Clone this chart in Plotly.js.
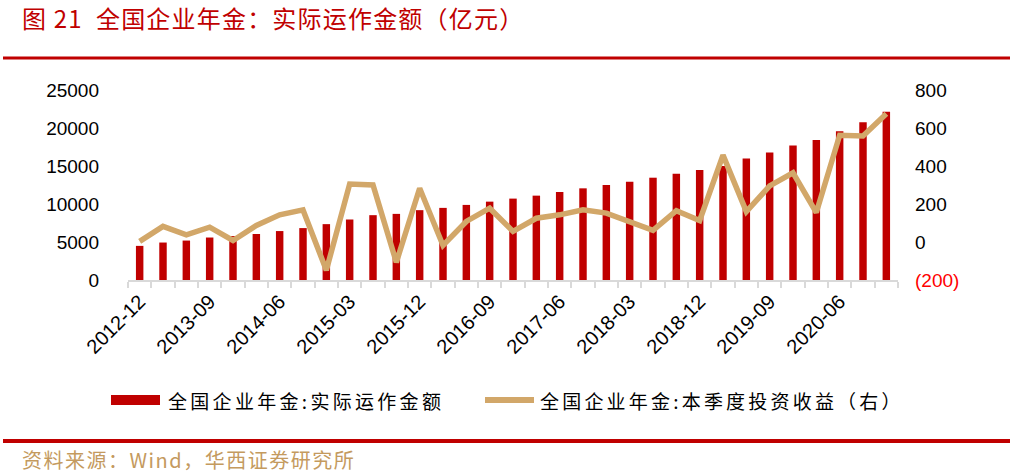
<!DOCTYPE html>
<html>
<head>
<meta charset="utf-8">
<script src="https://cdn.plot.ly/plotly-3.0.1.min.js"></script>
<style>
  html, body { margin: 0; padding: 0; background: #fff; }
  #myDiv { width: 1015px; height: 475px; }
</style>
</head>
<body>
<div id="myDiv"></div>
<script>
// quarters, 2012-12 .. 2020-12
var quarters = ['2012-12', '2013-03', '2013-06', '2013-09', '2013-12', '2014-03', '2014-06', '2014-09',
  '2014-12', '2015-03', '2015-06', '2015-09', '2015-12', '2016-03', '2016-06', '2016-09',
  '2016-12', '2017-03', '2017-06', '2017-09', '2017-12', '2018-03', '2018-06', '2018-09',
  '2018-12', '2019-03', '2019-06', '2019-09', '2019-12', '2020-03', '2020-06', '2020-09', '2020-12'];

// 实际运作金额 (亿元), left axis
var assets = [4490, 4930, 5190, 5590, 5780, 6050, 6440, 6830,
  7350, 7960, 8530, 8700, 9190, 9490, 9880, 10310,
  10710, 11100, 11580, 12060, 12500, 12930, 13460, 13980,
  14460, 15000, 16000, 16780, 17700, 18430, 19570, 20750, 22150];

// 本季度投资收益 (亿元), right axis
var income = [3, 82, 38, 78, 8, 87, 143, 169,
  -149, 305, 300, -107, 283, -18, 108, 178,
  56, 125, 143, 169, 152, 108, 61, 165,
  113, 457, 160, 295, 364, 155, 562, 558, 675];

var leftTicks = [0, 5000, 10000, 15000, 20000, 25000];
var rightTicks = [-200, 0, 200, 400, 600, 800];
var rightLabels = ['<span style="color:#FF0000">(200)</span>', '0', '200', '400', '600', '800'];

// label every third quarter, tick every quarter
var xLabels = quarters.map(function (q, i) { return i % 3 === 0 ? q : ''; });

var barColor = '#C00000';
var lineColor = '#D2A769';

var data = [{
  x: quarters,
  y: assets,
  type: 'bar',
  name: '全国企业年金:实际运作金额',
  marker: {color: barColor},
  yaxis: 'y',
  hoverinfo: 'x+y'
}, {
  x: quarters,
  y: income,
  type: 'scatter',
  mode: 'lines',
  name: '全国企业年金:本季度投资收益（右）',
  line: {color: lineColor, width: 5.5},
  yaxis: 'y2',
  hoverinfo: 'x+y'
}];

// plot area in pixels: x 128..898, y 90..280
function px(x) { return (x - 128) / 770; }
function py(y) { return (280 - y) / 190; }
function spaced(t, s) { return '<span style="letter-spacing:' + s + 'px">' + t + '</span>'; }

var cjk = '"Noto Sans CJK SC", "Liberation Sans", sans-serif';

var layout = {
  width: 1015,
  height: 475,
  margin: {l: 128, r: 117, t: 90, b: 195},
  paper_bgcolor: '#fff',
  plot_bgcolor: '#fff',
  showlegend: false,
  bargap: 0.68,
  font: {family: '"Liberation Sans", Arial, sans-serif', color: '#000'},
  xaxis: {
    type: 'category',
    tickmode: 'array',
    tickvals: quarters,
    ticktext: xLabels,
    tickson: 'boundaries',
    ticks: 'outside',
    ticklen: 6,
    tickwidth: 2,
    tickcolor: '#D9D9D9',
    showline: true,
    linecolor: '#D9D9D9',
    linewidth: 2,
    showgrid: false,
    tickangle: -45,
    tickfont: {size: 20, color: '#000'}
  },
  yaxis: {
    range: [0, 25000],
    tickmode: 'array',
    tickvals: leftTicks,
    tickformat: 'd',
    showgrid: false,
    zeroline: false,
    showline: false,
    ticklabelstandoff: 28,
    tickfont: {size: 19, color: '#000'}
  },
  yaxis2: {
    overlaying: 'y',
    side: 'right',
    range: [-200, 800],
    tickmode: 'array',
    tickvals: rightTicks,
    ticktext: rightLabels,
    showgrid: false,
    zeroline: false,
    showline: false,
    ticklabelstandoff: 16,
    tickfont: {size: 19, color: '#000'}
  },
  shapes: [
    {type: 'line', xref: 'paper', yref: 'paper', x0: px(3), x1: px(1010), y0: py(58), y1: py(58),
      line: {color: barColor, width: 3}},
    {type: 'line', xref: 'paper', yref: 'paper', x0: px(3), x1: px(1010), y0: py(441), y1: py(441),
      line: {color: barColor, width: 4}},
    {type: 'rect', xref: 'paper', yref: 'paper', x0: px(111), x1: px(160), y0: py(405), y1: py(395),
      fillcolor: barColor, line: {width: 0}},
    {type: 'line', xref: 'paper', yref: 'paper', x0: px(485), x1: px(534), y0: py(400), y1: py(400),
      line: {color: lineColor, width: 6}}
  ],
  annotations: [
    {xref: 'paper', yref: 'paper', x: px(20), y: py(18), xanchor: 'left', yanchor: 'middle',
      showarrow: false, text: spaced('图 21  全国企业年金：实际运作金额（亿元）', 1.2),
      font: {family: cjk, size: 24, color: barColor}},
    {xref: 'paper', yref: 'paper', x: px(166), y: py(400), xanchor: 'left', yanchor: 'middle',
      showarrow: false, text: spaced('全国企业年金:实际运作金额', 3.3),
      font: {family: cjk, size: 19, color: '#000'}},
    {xref: 'paper', yref: 'paper', x: px(538), y: py(400), xanchor: 'left', yanchor: 'middle',
      showarrow: false, text: spaced('全国企业年金:本季度投资收益（右）', 3.2),
      font: {family: cjk, size: 19, color: '#000'}},
    {xref: 'paper', yref: 'paper', x: px(20), y: py(459), xanchor: 'left', yanchor: 'middle',
      showarrow: false, text: spaced('资料来源：Wind，华西证券研究所', 1.5),
      font: {family: cjk, size: 20, color: '#C49A5E'}}
  ]
};

Plotly.newPlot('myDiv', data, layout, {displayModeBar: false, staticPlot: true});
</script>
</body>
</html>
